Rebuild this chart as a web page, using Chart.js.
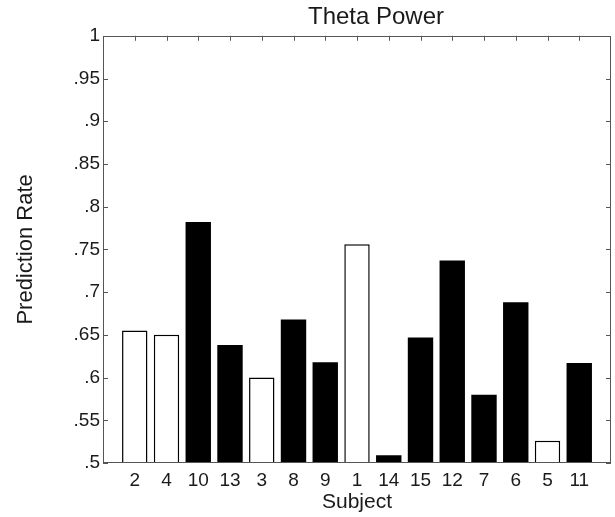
<!DOCTYPE html>
<html>
<head>
<meta charset="utf-8">
<script src="https://cdn.jsdelivr.net/npm/chart.js@4.4.1/dist/chart.umd.min.js"></script>
<style>
  html, body { margin: 0; padding: 0; background: #fff; }
  #wrap { width: 615px; height: 517px; }
</style>
</head>
<body>
<div id="wrap"><canvas id="myChart" width="615" height="517"></canvas></div>
<script>
// subjects in plotted order, their prediction rate, and which ones are drawn filled
const subjects = ['2', '4', '10', '13', '3', '8', '9', '1', '14', '15', '12', '7', '6', '5', '11'];
const rates = [0.655, 0.650, 0.782, 0.638, 0.600, 0.668, 0.618, 0.756, 0.509, 0.647, 0.737, 0.580, 0.688, 0.526, 0.617];
const filled = [false, false, true, true, false, true, true, false, true, true, true, true, true, false, true];
const yTicks = [0.5, 0.55, 0.6, 0.65, 0.7, 0.75, 0.8, 0.85, 0.9, 0.95, 1];

const fontFamily = '"Liberation Sans", Arial, Helvetica, sans-serif';
const textColor = '#1a1a1a';
const axisColor = '#555';

// matlab style: ticks pointing inward on all four sides
const insideTicks = {
    id: 'insideTicks',
    beforeDatasetsDraw(chart) {
        const { ctx, chartArea: a, scales: { x, y } } = chart;
        const len = 5;
        ctx.save();
        ctx.strokeStyle = axisColor;
        ctx.lineWidth = 1;
        ctx.beginPath();
        y.ticks.forEach(t => {
            const py = Math.round(y.getPixelForValue(t.value)) + 0.5;
            ctx.moveTo(a.left, py); ctx.lineTo(a.left + len, py);
            ctx.moveTo(a.right, py); ctx.lineTo(a.right - len, py);
        });
        x.ticks.forEach(t => {
            const px = Math.round(x.getPixelForValue(t.value)) + 0.5;
            ctx.moveTo(px, a.top); ctx.lineTo(px, a.top + len);
            ctx.moveTo(px, a.bottom); ctx.lineTo(px, a.bottom - len);
        });
        ctx.stroke();
        ctx.restore();
    },
    afterDatasetsDraw(chart) {
        const { ctx, chartArea: a } = chart;
        ctx.save();
        ctx.strokeStyle = axisColor;
        ctx.lineWidth = 1;
        ctx.strokeRect(Math.round(a.left) + 0.5, Math.round(a.top) + 0.5,
            Math.round(a.width) - 1, Math.round(a.height) - 1);
        ctx.restore();
    },
    afterLayout(chart) {
        // title in the original sits a bit right of the plot centre
        if (chart.titleBlock) {
            chart.titleBlock.left += 19;
            chart.titleBlock.right += 19;
        }
    }
};

const myChartCanvas = document.getElementById('myChart');

const myChart = new Chart(myChartCanvas, {
    type: 'bar',
    data: {
        datasets: [{
            label: 'Prediction Rate',
            data: rates.map((r, i) => ({ x: i + 1, y: r })),
            backgroundColor: filled.map(f => f ? '#000' : '#fff'),
            borderColor: '#000',
            borderWidth: filled.map(f => f ? 0 : 1.5),
            borderSkipped: false,
            categoryPercentage: 1,
            barPercentage: 0.8
        }]
    },
    plugins: [insideTicks],
    options: {
        responsive: false,
        animation: false,
        devicePixelRatio: 1,
        layout: { padding: { left: 13, right: 4, top: 0, bottom: 0 } },
        plugins: {
            legend: { display: false },
            tooltip: { enabled: false },
            title: {
                display: true,
                text: 'Theta Power',
                fullSize: false,
                color: textColor,
                font: { family: fontFamily, size: 24, weight: 'normal' },
                padding: { top: 3, bottom: 4 }
            }
        },
        scales: {
            x: {
                type: 'linear',
                offset: false,
                min: 0,
                max: subjects.length + 1,
                grid: { display: false, drawTicks: false },
                border: { display: false },
                afterBuildTicks: (scale) => {
                    scale.ticks = subjects.map((s, i) => ({ value: i + 1 }));
                },
                afterFit: (scale) => { scale.height = 54; },
                ticks: {
                    autoSkip: false,
                    maxRotation: 0,
                    padding: 6,
                    color: textColor,
                    font: { family: fontFamily, size: 19 },
                    callback: (value) => subjects[value - 1]
                },
                title: {
                    display: true,
                    text: 'Subject',
                    color: textColor,
                    font: { family: fontFamily, size: 21 },
                    padding: { top: 0, bottom: 2 }
                }
            },
            y: {
                min: 0.5,
                max: 1,
                grid: { display: false, drawTicks: false },
                border: { display: false },
                afterBuildTicks: (scale) => {
                    scale.ticks = yTicks.map(v => ({ value: v }));
                },
                afterFit: (scale) => { scale.width = 90; },
                ticks: {
                    padding: 3,
                    color: textColor,
                    font: { family: fontFamily, size: 19 },
                    callback: (value) => String(Math.round(value * 100) / 100).replace(/^0/, '')
                },
                title: {
                    display: true,
                    text: 'Prediction Rate',
                    color: textColor,
                    font: { family: fontFamily, size: 22 },
                    padding: { top: 0, bottom: 0 }
                }
            }
        }
    }
});
</script>
</body>
</html>
